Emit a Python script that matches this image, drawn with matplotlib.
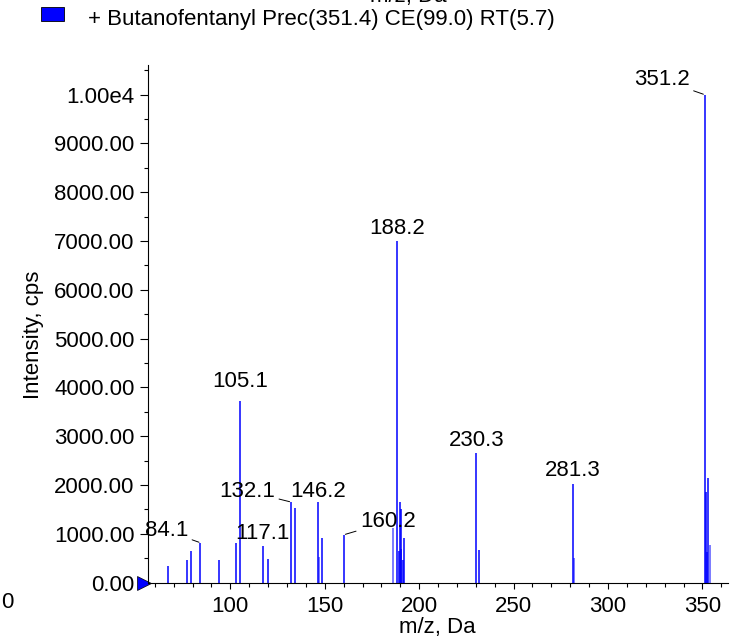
import matplotlib
matplotlib.use("Agg")
import matplotlib.pyplot as plt
from matplotlib.patches import Rectangle
from matplotlib.ticker import MultipleLocator, FuncFormatter

plt.rcParams["font.family"] = ["Liberation Sans", "DejaVu Sans"]
plt.rcParams["font.size"] = 16

# main peaks (m/z, intensity)
mz = [66.8, 77.2, 79.1, 84.1, 94.1, 102.9, 105.1, 117.1, 120.1, 132.1, 134.1,
      146.2, 148.3, 160.2, 188.2, 189.1, 189.7, 190.2, 190.6, 191.3, 191.8,
      230.3, 231.8, 281.3, 351.2, 352.0, 352.4, 353.1]
intensity = [338, 461, 639, 816, 455, 809, 3720, 748, 481, 1650, 1527,
             1650, 905, 980, 7000, 651, 1650, 1500, 686, 467, 905,
             2660, 666, 2020, 10000, 1865, 635, 2150]

# fainter peaks
mz_light = [147.0, 186.2, 282.1, 354.0]
intensity_light = [522, 1110, 509, 765]

# labelled peaks: (m/z, text offset in pixels, leader line?)
labels = [
    (351.2, (-43, 15), True),
    (188.2, (0, 13), False),
    (105.1, (0, 20), False),
    (230.3, (0, 12), False),
    (281.3, (0, 13), False),
    (132.1, (-44, 11), True),
    (146.2, (1, 11), False),
    (117.1, (0, 13), False),
    (84.1, (-34, 12), True),
    (160.2, (44, 13), True),
]

fig = plt.figure(figsize=(7.42, 6.4), dpi=100)
ax = fig.add_axes([0.199, 0.0898, 0.782, 0.808])

ax.vlines(mz_light, 0, intensity_light, color="#7070ff", lw=1.3)
ax.vlines(mz, 0, intensity, color="#0000ff", lw=1.1)

for m, off, leader in labels:
    y = intensity[mz.index(m)]
    if leader:
        ax.annotate(f"{m:.1f}", xy=(m, y), xytext=off, textcoords="offset pixels",
                    ha="center", va="center",
                    arrowprops=dict(arrowstyle="-", color="black", lw=0.7,
                                    shrinkA=1, shrinkB=1))
    else:
        ax.annotate(f"{m:.1f}", xy=(m, y), xytext=off, textcoords="offset pixels",
                    ha="center", va="center")

ax.set_xlim(56.2, 363.5)
ax.set_ylim(0, 10600)

ax.xaxis.set_major_locator(MultipleLocator(50))
ax.xaxis.set_minor_locator(MultipleLocator(10))
ax.yaxis.set_major_locator(MultipleLocator(1000))
ax.yaxis.set_minor_locator(MultipleLocator(500))
ax.yaxis.set_major_formatter(FuncFormatter(
    lambda v, p: "1.00e4" if v >= 10000 else f"{v:.2f}"))

ax.tick_params(axis="x", which="major", length=4, width=0.8, pad=6)
ax.tick_params(axis="x", which="minor", length=3, width=0.8)
ax.tick_params(axis="y", which="major", length=5.5, width=0.8, pad=4)
ax.tick_params(axis="y", which="minor", length=3, width=0.8)

for s in ["top", "right"]:
    ax.spines[s].set_visible(False)
for s in ["left", "bottom"]:
    ax.spines[s].set_linewidth(0.8)

# blue marker at the origin
ax.plot([-0.007], [0.0], marker=">", ms=10, color="#0000ff", mec="black",
        mew=0.5, transform=ax.transAxes, clip_on=False)

fig.text(0.590, 0.019, "m/z, Da", ha="center", va="center")
fig.text(0.045, 0.477, "Intensity, cps", ha="center", va="center", rotation=90)
fig.text(0.0095, 0.058, "0", ha="center", va="center")
fig.text(0.55, 1.005, "m/z, Da", ha="center", va="center")

# legend
fig.patches.append(Rectangle((0.0553, 0.967), 0.031, 0.0219, transform=fig.transFigure,
                             facecolor="#0000ff", edgecolor="black", lw=0.6))
fig.text(0.1186, 0.970, "+ Butanofentanyl Prec(351.4) CE(99.0) RT(5.7)",
         ha="left", va="center")

fig.savefig("out.png", dpi=100)
